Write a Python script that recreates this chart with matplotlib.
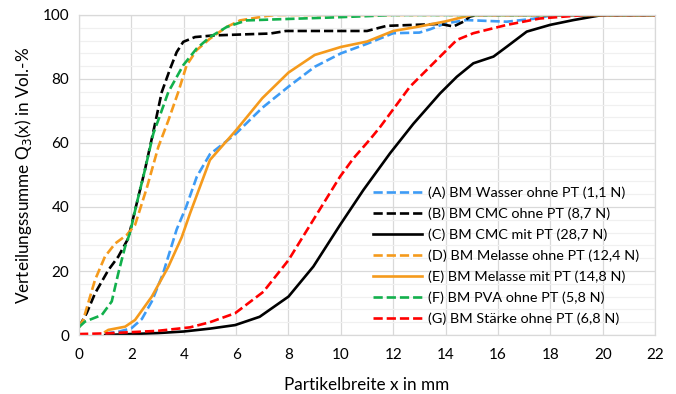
import matplotlib.pyplot as plt
from matplotlib.ticker import MultipleLocator

plt.rcParams["font.family"] = ["Lato", "DejaVu Sans"]

# (A) BM Wasser ohne PT
a_x = [1, 1.5, 2, 2.4, 2.78, 3.2, 3.73, 4.09, 4.5, 5, 5.7, 6, 7, 8, 9, 10, 11, 12, 13, 13.4, 14, 14.8, 16.34, 17.35, 18, 22]
a_y = [0.5, 1, 2.1, 5, 10.5, 19, 33, 40, 49.5, 56.5, 61, 63, 71, 77.6, 83.8, 88, 91, 94.3, 94.5, 95.5, 97.4, 98.4, 97.9, 98.8, 99.8, 100]

# (B) BM CMC ohne PT
b_x = [0, 0.29, 0.61, 1.12, 1.5, 1.88, 2.2, 2.5, 2.85, 3.16, 3.48, 3.73, 3.98, 4.43, 5.13, 6.53, 7.3, 7.9, 10.7, 11, 11.75, 13.8, 14.3, 14.68, 14.93, 15.2, 22]
b_y = [2.5, 6.8, 13, 20.3, 24.5, 30.2, 41, 51, 64, 75.9, 83.2, 88.4, 91.6, 93.1, 93.6, 94, 94.2, 95, 95, 95, 96.6, 97.2, 96.4, 97.9, 99.5, 100, 100]

# (C) BM CMC mit PT
c_x = [1, 2, 3, 4, 5, 5.96, 6.9, 8.0, 8.95, 9.97, 10.86, 11.88, 12.77, 13.79, 14.43, 15.06, 15.83, 16.34, 17.1, 17.99, 18.88, 19.64, 20, 22]
c_y = [0, 0.3, 0.6, 1.1, 2, 3.1, 5.7, 12, 21.4, 34.4, 45.3, 56.8, 66, 75.5, 80.7, 84.9, 87, 90.1, 94.8, 96.9, 98.4, 99.5, 100, 100]

# (D) BM Melasse ohne PT
d_x = [0, 0.16, 0.61, 0.99, 1.38, 1.82, 2.14, 2.59, 3.03, 3.41, 3.79, 4.11, 4.49, 5.0, 5.64, 6.15, 7.17, 7.5, 22]
d_y = [2.5, 4.7, 17.2, 24.5, 28.6, 31.25, 34.4, 46, 58.8, 67, 75.9, 84.3, 89, 92.6, 96.25, 98.3, 99.7, 100, 100]

# (E) BM Melasse mit PT
e_x = [1, 1.12, 1.76, 2.14, 2.78, 3.41, 3.92, 4.24, 5, 6, 7, 8, 9, 10, 11, 12, 13, 14, 15, 22]
e_y = [1, 1.6, 2.6, 4.7, 12, 21.3, 30.5, 38, 54.7, 64, 74, 82, 87.5, 90, 91.7, 95, 96.4, 98, 100, 100]

# (F) BM PVA ohne PT
f_x = [0, 0.23, 0.87, 1.25, 1.5, 1.76, 1.95, 2.2, 2.5, 2.84, 3.03, 3.41, 3.98, 4.49, 5.0, 5.64, 6.4, 7.42, 9.6, 11.2, 12, 22]
f_y = [2.5, 4.2, 6.25, 10.5, 19.3, 27.6, 32, 41, 51, 63, 67.2, 75.9, 84.3, 89.5, 93.1, 96.25, 98.3, 98.6, 99.2, 99.7, 100, 100]

# (G) BM Stärke ohne PT
g_x = [0, 1, 2, 3, 4.24, 5, 5.96, 7.04, 8.0, 8.95, 9.97, 10.48, 11.1, 11.5, 12.64, 13.79, 14.43, 15.06, 16.34, 17.6, 18.87, 19.3, 22]
g_y = [0.3, 0.5, 0.9, 1.3, 2.4, 4, 6.8, 13.5, 23.4, 36, 49.5, 55.2, 61, 65, 77.6, 87, 92.2, 94.3, 96.9, 98.9, 99.7, 100, 100]

labels = [
    "(A) BM Wasser ohne PT (1,1 N)",
    "(B) BM CMC ohne PT (8,7 N)",
    "(C) BM CMC mit PT (28,7 N)",
    "(D) BM Melasse ohne PT (12,4 N)",
    "(E) BM Melasse mit PT (14,8 N)",
    "(F) BM PVA ohne PT (5,8 N)",
    "(G) BM Stärke ohne PT (6,8 N)",
]

fig = plt.figure(figsize=(6.76, 3.94), dpi=100)
ax = fig.add_axes([0.1169, 0.1497, 0.8521, 0.8123])

lw = 1.9
dash = (3.5, 1.5)
ax.plot(a_x, a_y, color="#3d9bf5", lw=lw, dashes=dash, label=labels[0])
ax.plot(b_x, b_y, color="black", lw=lw, dashes=dash, label=labels[1])
ax.plot(c_x, c_y, color="black", lw=lw, label=labels[2])
ax.plot(d_x, d_y, color="#f59a1c", lw=lw, dashes=dash, label=labels[3])
ax.plot(e_x, e_y, color="#f59a1c", lw=lw, label=labels[4])
ax.plot(f_x, f_y, color="#12b04c", lw=lw, dashes=dash, label=labels[5])
ax.plot(g_x, g_y, color="#ff0000", lw=lw, dashes=dash, label=labels[6])

ax.set_xlim(0, 22)
ax.set_ylim(0, 100)
ax.xaxis.set_major_locator(MultipleLocator(2))
ax.yaxis.set_major_locator(MultipleLocator(20))
ax.yaxis.set_minor_locator(MultipleLocator(4))
ax.grid(which="major", color="#d9d9d9", lw=0.9)
ax.grid(which="minor", axis="y", color="#f0f0f0", lw=0.9)
ax.set_axisbelow(True)
for s in ax.spines.values():
    s.set_color("#d9d9d9")
    s.set_linewidth(0.9)
ax.tick_params(which="both", length=0, labelsize=11, pad=9)
ax.tick_params(axis="y", pad=7)

ax.set_xlabel("Partikelbreite x in mm", fontsize=12.3, labelpad=11)
ax.set_ylabel("Verteilungssumme Q$_3$(x) in Vol.-%", fontsize=12.3, labelpad=6)

ax.legend(loc="lower right", bbox_to_anchor=(0.99, 0.0), frameon=False, fontsize=10.4,
          handlelength=3.4, handletextpad=0.4, labelspacing=0.58, borderaxespad=0.3)

fig.savefig("out.png", dpi=100)
